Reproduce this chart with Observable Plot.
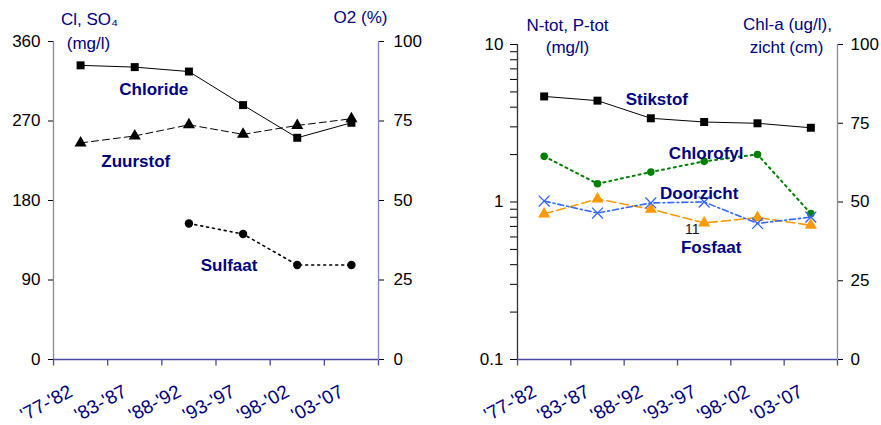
<!DOCTYPE html>
<html><head><meta charset="utf-8">
<script src="https://cdn.jsdelivr.net/npm/d3@7"></script>
<script src="https://cdn.jsdelivr.net/npm/@observablehq/plot@0.6"></script>
<style>
body{margin:0;background:#fff;}
#wrap{position:relative;width:881px;height:425px;overflow:hidden;}
.panel{position:absolute;top:0;height:425px;}
.panel svg{position:absolute;top:0;left:0;}
</style></head><body><div id="wrap"><div class="panel" id="p1" style="left:0;width:440px"></div><div class="panel" id="p2" style="left:440px;width:441px"></div></div>
<script>
// ---- data ----
const periods = ["'77-'82", "'83-'87", "'88-'92", "'93-'97", "'98-'02", "'03-'07"];
const chloride = [333, 331, 326, 288, 251, 268];          // mg/l
const sulfaat = [null, null, 154, 142, 107, 107];          // mg/l
const zuurstof = [68.1, 70.3, 73.8, 70.8, 73.6, 75.7];     // O2 %
const stikstof = [4.68, 4.40, 3.40, 3.22, 3.16, 2.96];     // N-tot mg/l
const fosfaat = [0.84, 1.045, 0.90, 0.736, 0.796, 0.711];  // P-tot mg/l
const chlorofyl = [64.5, 55.8, 59.5, 62.9, 65.1, 46.3];    // ug/l
const doorzicht = [50.3, 46.5, 49.7, 50.0, 43.2, 45.2];    // cm
const leftTicks = [0, 90, 180, 270, 360];
const pctTicks = [0, 25, 50, 75, 100];
const logMajor = [0.1, 1, 10];
const logMinor = [0.2, 0.3, 0.4, 0.5, 0.6, 0.7, 0.8, 0.9, 2, 3, 4, 5, 6, 7, 8, 9];
const stray = ["11"];

// ---- helpers ----
const xs = periods.map((p, i) => i + 0.5);
const bounds = d3.range(periods.length + 1);
const rows = vals => periods.map((p, i) => ({x: xs[i], y: vals[i]})).filter(d => d.y != null);
const NAVY = "#000080", LAV = "#8484c4", AXN = "#4a4aa2";
const FONT = "'Liberation Sans', Arial, sans-serif";
const style = {background: "transparent", fontSize: "17px", fontFamily: FONT, overflow: "visible"};
const lbl = (name, vals, i, dx, dy) =>
  Plot.text([name], {x: [xs[i]], y: [vals[i]], dx, dy, fill: NAVY, fontWeight: "bold", fontSize: 17});
const title = (txt, anchor, dx, dy) =>
  Plot.text([txt], {frameAnchor: anchor, textAnchor: "middle", lineAnchor: "middle", dx, dy, fill: NAVY, fontSize: 17});
const xLabels = () => Plot.text(periods, {x: xs, frameAnchor: "bottom", rotate: -28, textAnchor: "end",
  lineAnchor: "top", dx: -13, dy: 24, fill: NAVY, fontSize: 19});
// tick symbol: short vertical stroke hanging below the x axis line
const tickDown = {draw(ctx) { ctx.moveTo(0, 0); ctx.lineTo(0, 6); }};
const xTicks = () => Plot.dot(bounds, {x: d => d, frameAnchor: "bottom", symbol: tickDown, r: 3,
  stroke: AXN, strokeWidth: 1.3, fill: "none"});
const noX = {domain: [0, periods.length], axis: null};

function styleAxes(svg, yTick, minorLen) {
  d3.select(svg).selectAll("g.tick").each(function () {
    const g = d3.select(this);
    const line = g.select("line");
    line.attr("stroke", yTick).attr("stroke-width", 1.3);
    const t = g.select("text");
    t.attr("fill", NAVY).attr("font-size", 17).attr("font-family", FONT);
    if (minorLen && t.text() === "") line.attr("x2", -minorLen);
  });
  d3.select(svg).selectAll("path.domain").remove();
  return svg;
}

// ---- left panel ----
const L = {width: 440, height: 425, marginLeft: 53, marginRight: 62, marginTop: 41, marginBottom: 66};
const p1a = styleAxes(Plot.plot({
  ...L, style,
  x: noX,
  y: {domain: [0, 360], axis: "left", ticks: leftTicks, tickSize: 5, tickPadding: 8, label: null},
  marks: [
    Plot.ruleX([0], {stroke: LAV, strokeWidth: 1.3}),
    Plot.ruleY([0], {stroke: AXN, strokeWidth: 1.3}),
    xTicks(),
    xLabels(),
    Plot.line(rows(chloride), {x: "x", y: "y", stroke: "#000", strokeWidth: 1}),
    Plot.dot(rows(chloride), {x: "x", y: "y", symbol: "square", r: 4.5, fill: "#000"}),
    Plot.line(rows(sulfaat), {x: "x", y: "y", stroke: "#000", strokeWidth: 1.6, strokeDasharray: "2,4"}),
    Plot.dot(rows(sulfaat), {x: "x", y: "y", symbol: "circle", r: 4.2, fill: "#000"}),
    lbl("Chloride", chloride, 1, 19, 22),
    lbl("Sulfaat", sulfaat, 3, -14, 31),
    title("Cl, SO\u2084", "top-left", 36, -22),
    title("(mg/l)", "top-left", 35, 2)
  ]
}), LAV);
const p1b = styleAxes(Plot.plot({
  ...L, style,
  x: noX,
  y: {domain: [0, 100], axis: "right", ticks: pctTicks, tickSize: 5, tickPadding: 10, label: null},
  marks: [
    Plot.ruleX([periods.length], {stroke: LAV, strokeWidth: 1.3}),
    Plot.line(rows(zuurstof), {x: "x", y: "y", stroke: "#000", strokeWidth: 1, strokeDasharray: "7,4"}),
    Plot.dot(rows(zuurstof), {x: "x", y: "y", symbol: "triangle", r: 4.5, fill: "#000"}),
    lbl("Zuurstof", zuurstof, 1, 1, 26),
    title("O2 (%)", "top-right", -18, -24)
  ]
}), LAV);
document.getElementById("p1").append(p1a, p1b);

// ---- right panel ----
const R = {width: 441, height: 425, marginLeft: 77, marginRight: 44, marginTop: 44, marginBottom: 66};
const p2a = styleAxes(Plot.plot({
  ...R, style,
  x: noX,
  y: {type: "log", domain: [0.1, 10], axis: "left", ticks: logMajor.concat(logMinor), tickSize: 7, tickPadding: 7,
      tickFormat: d => logMajor.includes(d) ? String(d) : "", label: null},
  marks: [
    Plot.ruleX([0], {stroke: "#333", strokeWidth: 1.3}),
    Plot.ruleY([0.1], {stroke: AXN, strokeWidth: 1.3}),
    xTicks(),
    xLabels(),
    Plot.line(rows(stikstof), {x: "x", y: "y", stroke: "#000", strokeWidth: 1}),
    Plot.dot(rows(stikstof), {x: "x", y: "y", symbol: "square", r: 4.5, fill: "#000"}),
    Plot.line(rows(fosfaat), {x: "x", y: "y", stroke: "#ff9900", strokeWidth: 1.6, strokeDasharray: "9,4"}),
    Plot.dot(rows(fosfaat), {x: "x", y: "y", symbol: "triangle", r: 4.5, fill: "#ff9900"}),
    lbl("Stikstof", stikstof, 2, 6, -19),
    lbl("Fosfaat", fosfaat, 3, 7, 25),
    Plot.text(stray, {x: [xs[3]], y: [fosfaat[3]], dx: -12, dy: 7, fill: "#111", fontSize: 14}),
    title("N-tot, P-tot", "top-left", 50, -19),
    title("(mg/l)", "top-left", 50, 3)
  ]
}), "#222", 4);
const p2b = styleAxes(Plot.plot({
  ...R, style,
  x: noX,
  y: {domain: [0, 100], axis: "right", ticks: pctTicks, tickSize: 5, tickPadding: 8, label: null},
  marks: [
    Plot.ruleX([periods.length], {stroke: LAV, strokeWidth: 1.3}),
    Plot.line(rows(chlorofyl), {x: "x", y: "y", stroke: "#008000", strokeWidth: 2, strokeDasharray: "2,4"}),
    Plot.dot(rows(chlorofyl), {x: "x", y: "y", symbol: "circle", r: 3.8, fill: "#008000"}),
    Plot.line(rows(doorzicht), {x: "x", y: "y", stroke: "#3366ff", strokeWidth: 1.6, strokeDasharray: "6,3,2,3"}),
    Plot.dot(rows(doorzicht), {x: "x", y: "y", symbol: "times", r: 5, stroke: "#3366ff", strokeWidth: 1.3, fill: "none"}),
    lbl("Chlorofyl", chlorofyl, 3, 2, -8),
    lbl("Doorzicht", doorzicht, 3, -5, -8),
    title("Chl-a (ug/l),", "top-right", -50, -20),
    title("zicht (cm)", "top-right", -51, 3)
  ]
}), LAV);
document.getElementById("p2").append(p2a, p2b);
</script></body></html>
